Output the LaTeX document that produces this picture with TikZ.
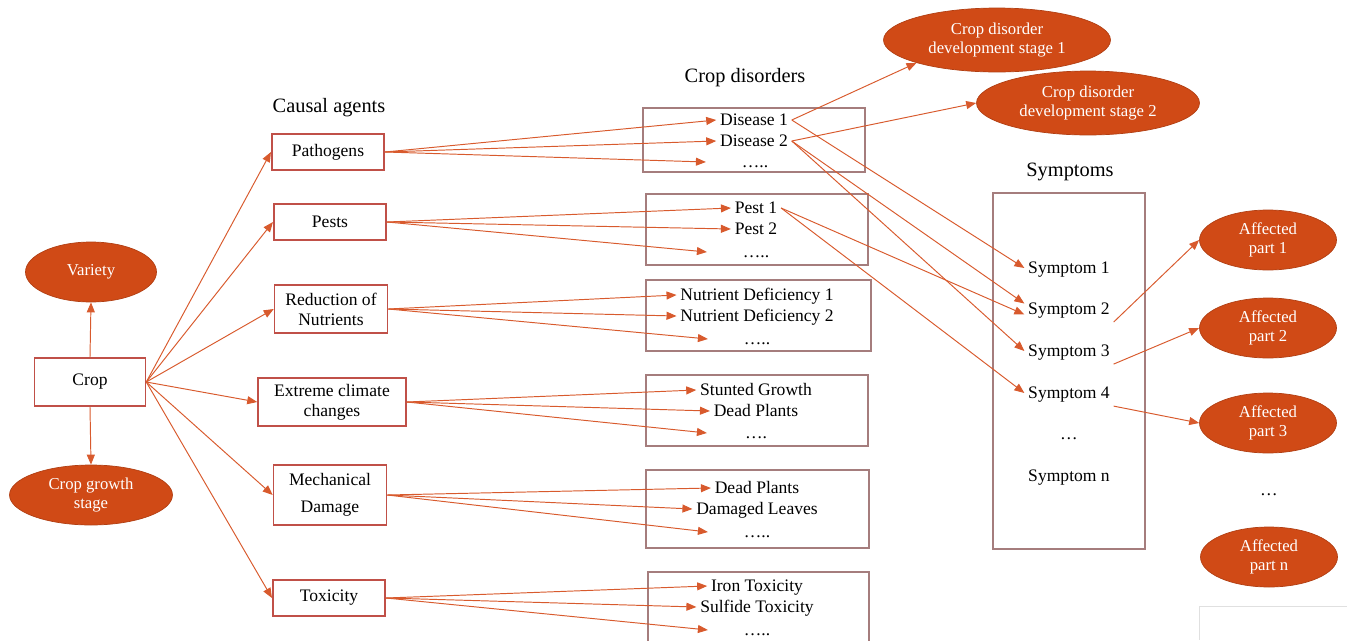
\documentclass[tikz,border=0pt]{standalone}
\usepackage{fontspec}
\setmainfont{Liberation Serif}
\usetikzlibrary{shapes.geometric,arrows.meta}
\definecolor{orangefill}{RGB}{208,74,22}
\definecolor{arrowline}{RGB}{216,90,45}
\definecolor{agentline}{RGB}{192,80,72}
\definecolor{boxline}{RGB}{165,125,125}

\begin{document}
\begin{tikzpicture}[x=0.02cm,y=-0.02cm,
  every node/.style={font=\fontsize{10}{11.5}\selectfont},
  agent/.style={draw=agentline,line width=0.9pt,minimum width=2.25cm,minimum height=0.72cm,align=center,inner sep=1pt},
  disbox/.style={draw=boxline,line width=0.9pt,inner sep=0pt},
  oval/.style={ellipse,fill=orangefill,draw=orangefill!85!black,line width=0.4pt,text=white,align=center,inner sep=0pt,font=\fontsize{9.5}{11}\selectfont},
  item/.style={inner sep=2pt,text height=8.5pt,text depth=2pt},
  dots/.style={item,minimum width=1.95cm},
  heading/.style={font=\fontsize{11.6}{14}\selectfont},
  arr/.style={draw=arrowline,line width=0.55pt,-{Triangle[length=2mm,width=1.6mm]}}]
  \useasboundingbox (0,0) rectangle (1347,640);

  \node[heading] (hagents) at (329,108) {Causal agents};
  \node[heading] (hdisorders) at (745,78) {Crop disorders};
  \node[heading] (hsymptoms) at (1070,172) {Symptoms};

  \node[agent,minimum width=2.22cm,minimum height=0.96cm] (crop) at (90,382) {Crop};
  \node[oval,minimum width=2.62cm,minimum height=1.2cm] (variety) at (91,272) {Variety};
  \node[oval,minimum width=3.26cm,minimum height=1.2cm] (growth) at (91,495) {Crop growth\\stage};

  \node[agent] (path) at (328,152) {Pathogens};
  \node[agent] (pest) at (330,222) {Pests};
  \node[agent,minimum width=2.26cm,minimum height=0.96cm] (nutr) at (331,309) {Reduction of\\Nutrients};
  \node[agent,minimum width=2.96cm,minimum height=0.96cm] (clim) at (332,402) {Extreme climate\\changes};
  \node[agent,minimum width=2.26cm,minimum height=1.2cm] (mech) at (330,495) {Mechanical\\[4pt]Damage};
  \node[agent] (tox) at (329,598) {Toxicity};

  \node[disbox,minimum width=4.44cm,minimum height=1.28cm] (disbx) at (754,140) {};
  \node[disbox,minimum width=4.44cm,minimum height=1.42cm] (pestbx) at (757,229.5) {};
  \node[disbox,minimum width=4.5cm,minimum height=1.42cm] (nutrbx) at (758.5,315.5) {};
  \node[disbox,minimum width=4.44cm,minimum height=1.42cm] (climbx) at (757,410.5) {};
  \node[disbox,minimum width=4.46cm,minimum height=1.56cm] (mechbx) at (757.5,509) {};
  \node[disbox,minimum width=4.42cm,minimum height=1.66cm] (toxbx) at (758.5,613.5) {};
  \node[disbox,minimum width=3.04cm,minimum height=7.12cm] (sympbx) at (1069,371) {};

  \node[item] (d1) at (754,120) {Disease 1};
  \node[item] (d2) at (754,141) {Disease 2};
  \node[dots] (d3) at (755,162) {…..};
  \node[item] (p1) at (756,208) {Pest 1};
  \node[item] (p2) at (756,229) {Pest 2};
  \node[dots] (p3) at (756,252) {…..};
  \node[item] (n1) at (757,295) {Nutrient Deficiency 1};
  \node[item] (n2) at (757,316) {Nutrient Deficiency 2};
  \node[dots] (n3) at (757,339) {…..};
  \node[item] (c1) at (756,390) {Stunted Growth};
  \node[item] (c2) at (756,411) {Dead Plants};
  \node[dots] (c3) at (756,433) {….};
  \node[item] (m1) at (757,488) {Dead Plants};
  \node[item] (m2) at (757,509) {Damaged Leaves};
  \node[dots] (m3) at (757,532) {…..};
  \node[item] (t1) at (757,586) {Iron Toxicity};
  \node[item] (t2) at (757,607) {Sulfide Toxicity};
  \node[dots] (t3) at (757,630) {…..};

  \node[item] (s1) at (1069,268) {Symptom 1};
  \node[item] (s2) at (1069,309) {Symptom 2};
  \node[item] (s3) at (1069,351) {Symptom 3};
  \node[item] (s4) at (1069,393) {Symptom 4};
  \node[item] (sdots) at (1069,434) {…};
  \node[item] (sn) at (1069,476) {Symptom n};

  \node[oval,minimum width=4.54cm,minimum height=1.28cm] (stage1) at (997,40) {Crop disorder\\development stage 1};
  \node[oval,minimum width=4.46cm,minimum height=1.28cm] (stage2) at (1088,103) {Crop disorder\\development stage 2};

  \node[oval,minimum width=2.74cm,minimum height=1.2cm] (a1) at (1268,240) {Affected\\part 1};
  \node[oval,minimum width=2.74cm,minimum height=1.2cm] (a2) at (1268,328) {Affected\\part 2};
  \node[oval,minimum width=2.74cm,minimum height=1.2cm] (a3) at (1268,423) {Affected\\part 3};
  \node[item] (adots) at (1269,490) {…};
  \node[oval,minimum width=2.74cm,minimum height=1.2cm] (an) at (1269,557) {Affected\\part n};

  \draw[arr] (crop.north) -- (variety.south);
  \draw[arr] (crop.south) -- (growth.north);
  \draw[arr] (crop.east) -- (path.west);
  \draw[arr] (crop.east) -- (pest.west);
  \draw[arr] (crop.east) -- (nutr.west);
  \draw[arr] (crop.east) -- (clim.west);
  \draw[arr] (crop.east) -- (mech.west);
  \draw[arr] (crop.east) -- (tox.west);

  \draw[arr] (path.east) -- (d1.west);
  \draw[arr] (path.east) -- (d2.west);
  \draw[arr] (path.east) -- (d3.west);
  \draw[arr] (pest.east) -- (p1.west);
  \draw[arr] (pest.east) -- (p2.west);
  \draw[arr] (pest.east) -- (p3.west);
  \draw[arr] (nutr.east) -- (n1.west);
  \draw[arr] (nutr.east) -- (n2.west);
  \draw[arr] (nutr.east) -- (n3.west);
  \draw[arr] (clim.east) -- (c1.west);
  \draw[arr] (clim.east) -- (c2.west);
  \draw[arr] (clim.east) -- (c3.west);
  \draw[arr] (mech.east) -- (m1.west);
  \draw[arr] (mech.east) -- (m2.west);
  \draw[arr] (mech.east) -- (m3.west);
  \draw[arr] (tox.east) -- (t1.west);
  \draw[arr] (tox.east) -- (t2.west);
  \draw[arr] (tox.east) -- (t3.west);

  \draw[arr] (d1.east) -- (stage1.south west);
  \draw[arr] (d2.east) -- (stage2.west);
  \draw[arr] (d1.east) -- (s1.west);
  \draw[arr] (d2.east) -- (s2.173);
  \draw[arr] (d2.east) -- (s3.west);
  \draw[arr] (p1.east) -- (s2.187);
  \draw[arr] (p1.east) -- (s4.west);

  \draw[arr] (s2.south east) -- (a1.west);
  \draw[arr] (s3.south east) -- (a2.west);
  \draw[arr] (s4.south east) -- (a3.west);

  \draw[black!12] (1199,640) -- (1199,606) -- (1347,606);
\end{tikzpicture}
\end{document}
